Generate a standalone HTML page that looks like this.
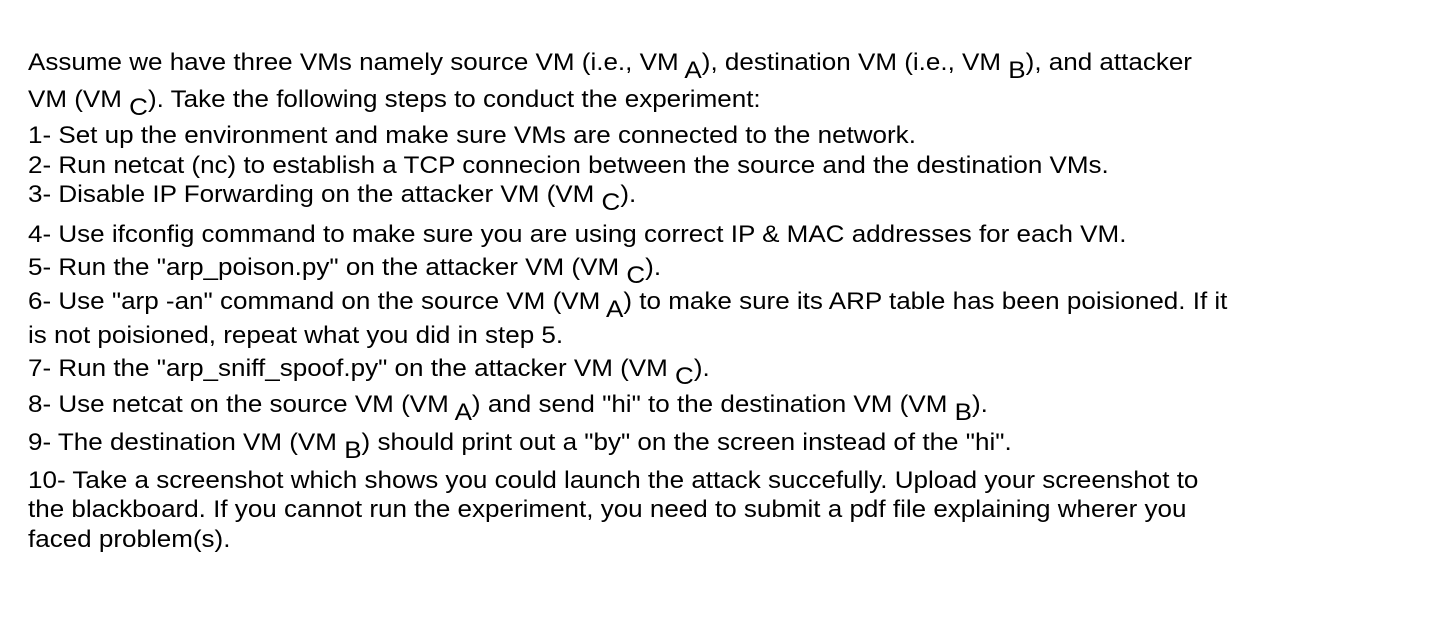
<!DOCTYPE html>
<html><head><meta charset="utf-8"><style>
body{margin:0;width:1442px;height:622px;background:#fff;position:relative;overflow:hidden;font-family:"Liberation Sans",Arial,sans-serif;font-size:24px;color:#000}
.l{position:absolute;left:28px;line-height:24px;white-space:pre;transform:scaleX(1.084);transform-origin:0 0}
s{text-decoration:none;position:relative;top:8px}
</style></head><body>
<div class="l" style="top:51px">Assume we have three VMs namely source VM (i.e., VM <s>A</s>), destination VM (i.e., VM <s>B</s>), and attacker</div>
<div class="l" style="top:88px">VM (VM <s>C</s>). Take the following steps to conduct the experiment:</div>
<div class="l" style="top:124px">1- Set up the environment and make sure VMs are connected to the network.</div>
<div class="l" style="top:154px">2- Run netcat (nc) to establish a TCP connecion between the source and the destination VMs.</div>
<div class="l" style="top:183px">3- Disable IP Forwarding on the attacker VM (VM <s>C</s>).</div>
<div class="l" style="top:223px">4- Use ifconfig command to make sure you are using correct IP &amp; MAC addresses for each VM.</div>
<div class="l" style="top:256px">5- Run the "arp_poison.py" on the attacker VM (VM <s>C</s>).</div>
<div class="l" style="top:290px">6- Use "arp -an" command on the source VM (VM <s>A</s>) to make sure its ARP table has been poisioned. If it</div>
<div class="l" style="top:324px">is not poisioned, repeat what you did in step 5.</div>
<div class="l" style="top:357px">7- Run the "arp_sniff_spoof.py" on the attacker VM (VM <s>C</s>).</div>
<div class="l" style="top:393px">8- Use netcat on the source VM (VM <s>A</s>) and send "hi" to the destination VM (VM <s>B</s>).</div>
<div class="l" style="top:431px">9- The destination VM (VM <s>B</s>) should print out a "by" on the screen instead of the "hi".</div>
<div class="l" style="top:469px">10- Take a screenshot which shows you could launch the attack succefully. Upload your screenshot to</div>
<div class="l" style="top:498px">the blackboard. If you cannot run the experiment, you need to submit a pdf file explaining wherer you</div>
<div class="l" style="top:528px">faced problem(s).</div>
</body></html>
